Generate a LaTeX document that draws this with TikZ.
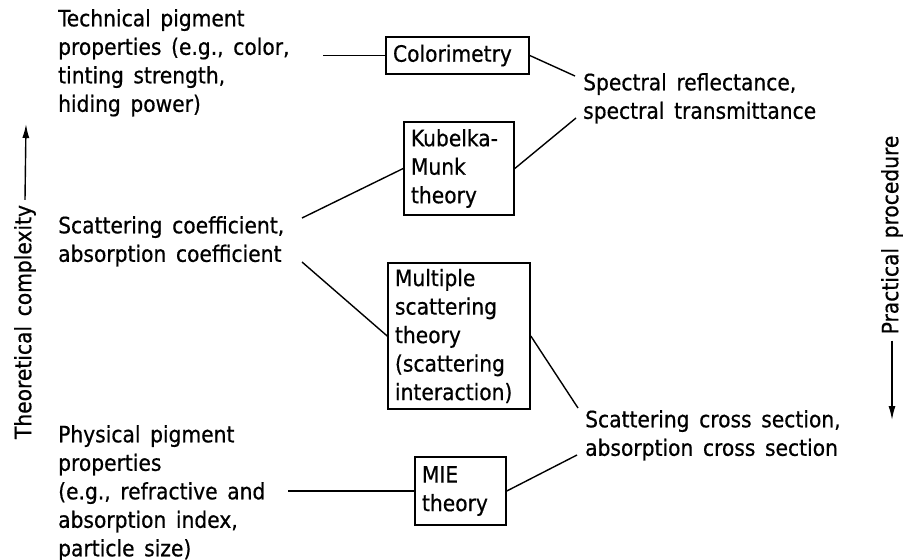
\documentclass[tikz,border=0pt]{standalone}
\usepackage{fontspec}
\setmainfont{DejaVu Sans Condensed}[WordSpace=1.5,FakeBold=0.6]
\usetikzlibrary{arrows.meta}

\begin{document}
\begin{tikzpicture}[x=1pt,y=-1pt,
    every node/.style={font=\fontsize{22.5}{28.5}\selectfont},
    txt/.style={anchor=north west,align=left,inner sep=0pt},
    theorybox/.style={draw,line width=1.6pt,align=left,inner xsep=7pt,inner ysep=0pt},
    link/.style={line width=1.4pt},
    axis/.style={line width=1.4pt,-{Latex[length=14pt,width=7pt]}}]
      \useasboundingbox (0,0) rectangle (903,560);

      % boxes in the middle
      \node[theorybox,text width=129pt,minimum height=37pt] (colorim) at (457.5,55.5){Colorimetry};
      \node[theorybox,text width=96pt,minimum height=93pt] (kubelka) at (459,168.5){Kubelka-\\Munk\\theory};
      \node[theorybox,text width=128pt,minimum height=146pt] (multiple) at (459,336){Multiple\\scattering\\theory\\(scattering\\interaction)};
      \node[theorybox,text width=77pt,minimum height=68pt] (mie) at (460.5,491){MIE\\theory};

      % left texts
      \node[txt] (techprop) at (58,9){Technical pigment\\properties (e.g., color,\\tinting strength,\\hiding power)};
      \node[txt] (scatcoef) at (58,216){Scattering coefficient,\\absorption coefficient};
      \node[txt] (physprop) at (58,425){Physical pigment\\properties\\(e.g., refractive and\\absorption index,\\particle size)};

      % right texts
      \node[txt] (spectral) at (583,73){Spectral reflectance,\\spectral transmittance};
      \node[txt] (crosssec) at (585,410){Scattering cross section,\\absorption cross section};

      \coordinate (techend) at (323,55.5);
      \coordinate (coefftop) at (302,218);
      \coordinate (coeffbot) at (302,262);
      \coordinate (physend) at (288,491);
      \coordinate (spectop) at (575,76);
      \coordinate (specbot) at (576,118);
      \coordinate (crosstop) at (578,408);
      \coordinate (crossbot) at (577,455);

      \draw[link] (techend) to (colorim.west);
      \draw[link] (colorim.east) to (spectop);
      \draw[link] (kubelka.west) to (coefftop);
      \draw[link] (kubelka.east) to (specbot);
      \draw[link] (coeffbot) to (multiple.west);
      \draw[link] (multiple.east) to (crosstop);
      \draw[link] (physend) to (mie.west);
      \draw[link] (mie.east) to (crossbot);

      % the two axes
      \node[rotate=90,inner sep=5pt] (theo) at (25,322){Theoretical complexity};
      \coordinate (theotip) at (26,124);
      \draw[axis] (theo.east) to (theotip);

      \node[rotate=90,inner sep=6pt] (prac) at (892,235){Practical procedure};
      \coordinate (practip) at (892,420);
      \draw[axis] (prac.west) to (practip);
    \end{tikzpicture}
\end{document}
